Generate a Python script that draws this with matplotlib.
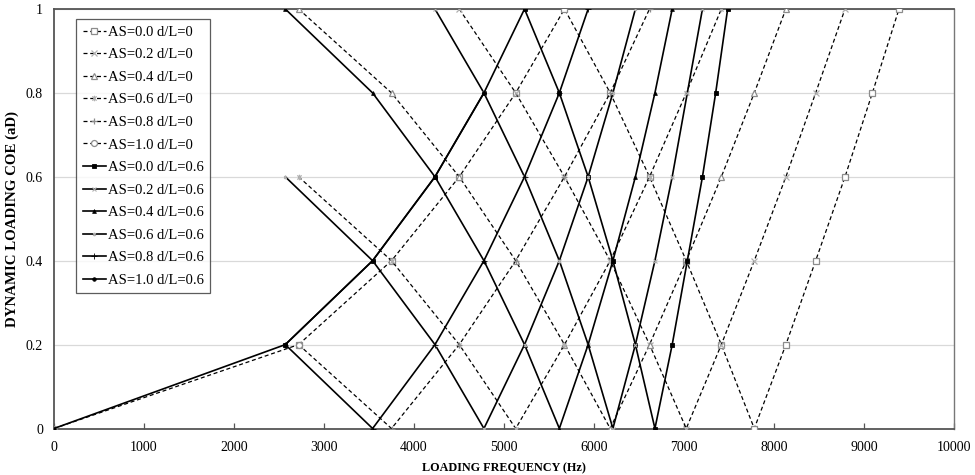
import numpy as np
import matplotlib
matplotlib.use('Agg')
import matplotlib.pyplot as plt
from matplotlib.path import Path

plt.rcParams['font.family'] = ['Liberation Serif', 'DejaVu Serif']

# === Loading frequency (Hz) at each data point, one list per case ===
# d/L = 0
fq_00_as00 = [2718, 3750, 4503, 5130, 5672, 6180, 6617, 7025, 7415, 7781, 8132, 8463, 8789, 9093, 9389]
fq_00_as02 = [4503, 5130, 5672, 6180, 6617, 7025, 7415, 7781, 8132, 8463, 8789]
fq_00_as04 = [2718, 3750, 4503, 5130, 5672, 6180, 6617, 7025, 7415, 7781, 8132]
fq_00_as06 = [2718, 3750, 4503, 5130, 5672, 6180, 6617, 7025, 7415]
fq_00_as08 = [2718, 3750, 4503, 5130, 5672, 6180, 6617]
fq_00_as10 = [0, 2718]
# d/L = 0.6
fq_06_as00 = [2570, 3540, 4233, 4777, 5228, 5615, 5935, 6210, 6460, 6677, 6869, 7037, 7205, 7352, 7485]
fq_06_as02 = [4233, 4777, 5228, 5615, 5935, 6210, 6460, 6677, 6869, 7037, 7205]
fq_06_as04 = [2570, 3540, 4233, 4777, 5228, 5615, 5935, 6210, 6460, 6677, 6869]
fq_06_as06 = [2570, 3540, 4233, 4777, 5228, 5615, 5935, 6210, 6460]
fq_06_as08 = [2570, 3540, 4233, 4777, 5228, 5615, 5935]
fq_06_as10 = [0, 2570, 3540, 4233, 4777]

# === Dynamic loading coefficient aD at those points ===
ad_as00 = [0.2, 0.4, 0.6, 0.8, 1.0, 0.8, 0.6, 0.4, 0.2, 0.0, 0.2, 0.4, 0.6, 0.8, 1.0]
ad_as02 = [1.0, 0.8, 0.6, 0.4, 0.2, 0.0, 0.2, 0.4, 0.6, 0.8, 1.0]
ad_as04 = [1.0, 0.8, 0.6, 0.4, 0.2, 0.0, 0.2, 0.4, 0.6, 0.8, 1.0]
ad_as06 = [0.6, 0.4, 0.2, 0.0, 0.2, 0.4, 0.6, 0.8, 1.0]
ad_as08 = [0.2, 0.0, 0.2, 0.4, 0.6, 0.8, 1.0]
ad_as10_00 = [0.0, 0.2]
ad_as10_06 = [0.0, 0.2, 0.4, 0.6, 0.8]

labels_00 = ['AS=0.0 d/L=0', 'AS=0.2 d/L=0', 'AS=0.4 d/L=0',
             'AS=0.6 d/L=0', 'AS=0.8 d/L=0', 'AS=1.0 d/L=0']
labels_06 = ['AS=0.0 d/L=0.6', 'AS=0.2 d/L=0.6', 'AS=0.4 d/L=0.6',
             'AS=0.6 d/L=0.6', 'AS=0.8 d/L=0.6', 'AS=1.0 d/L=0.6']

x_ticks = np.arange(0, 10001, 1000)
y_ticks = [0, 0.2, 0.4, 0.6, 0.8, 1]

# asterisk marker: an x with a vertical bar through it
star = Path([(-1, -1), (1, 1), (-1, 1), (1, -1), (0, -1.3), (0, 1.3)],
            [Path.MOVETO, Path.LINETO] * 3)

grey = '#8c8c8c'
light = '#b0b0b0'

# marker styles: (marker, size, face, edge, edge width)
style_00 = [('s', 4.3, 'white', grey, 0.9),
            ('x', 4.3, 'none', light, 0.9),
            ('^', 4.3, 'white', grey, 0.9),
            (star, 4.0, 'none', light, 0.9),
            ('+', 5.0, 'none', grey, 0.9),
            ('o', 4.3, 'white', grey, 0.9)]
style_06 = [('s', 2.8, 'black', 'black', 0.6),
            ('x', 2.8, 'none', light, 0.8),
            ('^', 2.8, 'black', 'black', 0.5),
            (star, 2.6, 'none', light, 0.8),
            ('+', 4.0, 'none', 'black', 0.6),
            ('o', 2.6, 'black', 'black', 0.5)]

series_00 = [(fq_00_as00, ad_as00), (fq_00_as02, ad_as02), (fq_00_as04, ad_as04),
             (fq_00_as06, ad_as06), (fq_00_as08, ad_as08), (fq_00_as10, ad_as10_00)]
series_06 = [(fq_06_as00, ad_as00), (fq_06_as02, ad_as02), (fq_06_as04, ad_as04),
             (fq_06_as06, ad_as06), (fq_06_as08, ad_as08), (fq_06_as10, ad_as10_06)]

fig = plt.figure(figsize=(9.75, 4.75), dpi=100)
ax = fig.add_axes([54 / 975, 1 - 428.5 / 475, 900 / 975, 419.5 / 475])

# === Dashed curves, d/L = 0 ===
for (fq, ad), (mk, ms, fc, ec, mew), lab in zip(series_00, style_00, labels_00):
    ax.plot(fq, ad, color='black', lw=0.9, ls=(0, (3.2, 2.2)),
            marker=mk, markersize=ms, markerfacecolor=fc,
            markeredgecolor=ec, markeredgewidth=mew, label=lab, zorder=3)

# === Solid curves, d/L = 0.6 ===
for (fq, ad), (mk, ms, fc, ec, mew), lab in zip(series_06, style_06, labels_06):
    ax.plot(fq, ad, color='black', lw=1.2, ls='-',
            marker=mk, markersize=ms, markerfacecolor=fc,
            markeredgecolor=ec, markeredgewidth=mew, label=lab, zorder=4)

ax.set_xlim(0, 10000)
ax.set_ylim(0, 1)
ax.set_xticks(x_ticks)
ax.set_yticks(y_ticks)
ax.set_xticklabels([str(v) for v in x_ticks])
ax.set_yticklabels(['0', '0.2', '0.4', '0.6', '0.8', '1'])
ax.tick_params(axis='x', direction='in', length=4, width=0.9, color='#555555',
               labelsize=10, pad=9)
ax.tick_params(axis='y', direction='in', length=0, labelsize=10, pad=8)

ax.grid(axis='y', color='#d9d9d9', lw=0.9)
ax.set_axisbelow(True)
for sp in ['left', 'bottom', 'top']:
    ax.spines[sp].set_color('#555555')
    ax.spines[sp].set_linewidth(1.3)
ax.spines['right'].set_color('#777777')
ax.spines['right'].set_linewidth(1.0)

ax.set_xlabel('LOADING FREQUENCY (Hz)', fontsize=8.7, fontweight='bold', labelpad=6)
ax.set_ylabel('DYNAMIC LOADING COE (aD)', fontsize=10.7, fontweight='bold', labelpad=5)

leg = ax.legend(loc='upper left', bbox_to_anchor=(0.0244, 0.976), fontsize=10.5,
                numpoints=1, handlelength=1.6, handletextpad=0.15,
                labelspacing=0.64, borderpad=0.45, borderaxespad=0,
                frameon=True, fancybox=False, edgecolor='#333333')
leg.get_frame().set_linewidth(0.9)

fig.savefig('out.png', dpi=100)
